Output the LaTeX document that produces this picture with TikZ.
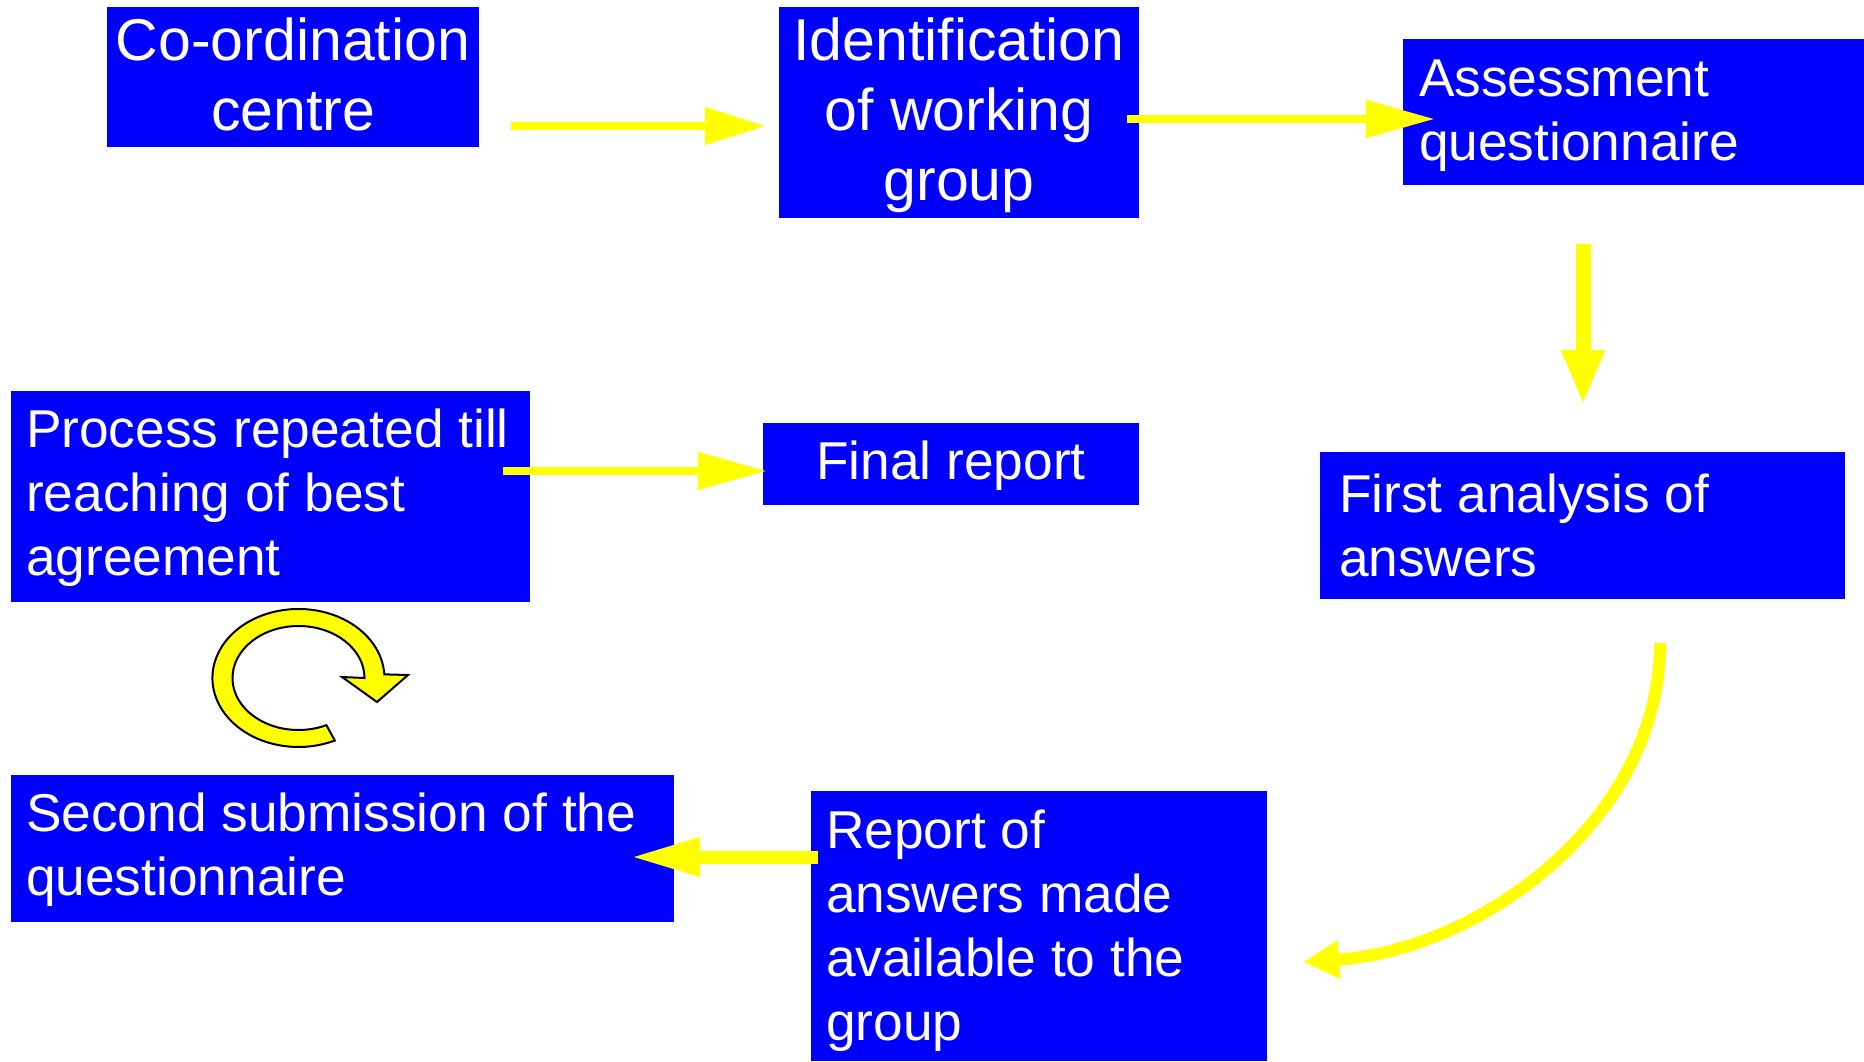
\documentclass[tikz,border=0pt]{standalone}
\usepackage{fontspec}
\setmainfont{Liberation Sans}
\usepackage{tikz}
\usetikzlibrary{arrows.meta}
\definecolor{cblue}{RGB}{0,0,255}
\definecolor{cyell}{RGB}{255,255,0}
\newcommand{\bigtxt}{\fontsize{59}{70}\selectfont}
\newcommand{\normtxt}{\fontsize{53.3}{64}\selectfont}
% struts fixing where the first and last baselines sit
\newcommand{\tstr}[1]{\rule{0pt}{#1pt}}
\newcommand{\bstr}{\rule[-16pt]{0pt}{0pt}}
\tikzset{
  box/.style={rectangle, fill=cblue, text=white, inner sep=0pt,
    align=center, font=\normtxt},
  lbox/.style={box, align=flush left, inner xsep=#1},
  lbox/.default=16pt,
  arr/.style={-{Triangle[length=#1, width=36pt]}, line width=8pt, draw=cyell},
  arr/.default=61pt
}
\begin{document}
\begin{tikzpicture}[x=1pt, y=-1pt]
  \useasboundingbox (0,0) rectangle (1864,1061);
  % boxes
  \node[box, font=\bigtxt, minimum width=372pt, minimum height=140pt]
    (coord) at (293,77) {\tstr{52}Co-ordination\\centre\bstr};
  \node[box, font=\bigtxt, minimum width=360pt, minimum height=211pt]
    (ident) at (959,112.5) {\tstr{51}Identification\\of working\\group\bstr};
  \node[lbox=16pt, text width=429pt, minimum height=146pt]
    (assess) at (1633.5,112) {\tstr{48}Assessment\\questionnaire\bstr};
  \node[lbox=15pt, text width=489pt, minimum height=211pt]
    (process) at (270.5,496.5) {\tstr{46}Process repeated till\\reaching of best\\agreement\bstr};
  \node[box, minimum width=376pt, minimum height=82pt]
    (final) at (951,464) {\tstr{46.4}Final report\bstr};
  \node[lbox=19pt, text width=487pt, minimum height=147pt]
    (first) at (1582.5,525.5) {\tstr{53}First analysis of\\answers\bstr};
  \node[lbox=15pt, text width=633pt, minimum height=147pt]
    (second) at (342.5,848.5) {\tstr{46.4}Second submission of the\\questionnaire\bstr};
  \node[lbox=15pt, text width=426pt, minimum height=270pt]
    (report) at (1039,926) {\tstr{52.6}Report of\\answers made\\available to the\\group\bstr};
  % connectors
  \draw[arr] ([shift={(32,49)}]coord.east) -- ([shift={(-13,13.5)}]ident.west);
  \draw[arr=69pt] ([shift={(-12,6.5)}]ident.east) -- ([shift={(32,7)}]assess.west);
  \draw[draw=cyell, line width=15pt, -{Triangle[length=55pt, width=40pt]}]
    ([shift={(-50.5,59)}]assess.south) -- ([shift={(0.5,-47)}]first.north);
  \draw[arr=69pt] ([shift={(-27,-25.5)}]process.east) -- ([shift={(4,7)}]final.west);
  \draw[arr=70pt, line width=13pt] ([shift={(7,-69)}]report.west)
    -- ([shift={(-44,8.5)}]second.east);
  \draw[arr=36pt, line width=12pt] ([shift={(77.5,44)}]first.south)
    .. controls +(0,177) and +(177,-12) .. ([shift={(36,36)}]report.east);
  % repeat symbol
  \draw[fill=cyell, line width=2pt]
    (334.8,740.5) arc[start angle=65, end angle=357, x radius=86, y radius=69]
    -- (408,675) -- (377,702) -- (342,677) -- (364.5,678)
    arc[start angle=360, end angle=65, x radius=66, y radius=52] -- cycle;
\end{tikzpicture}
\end{document}
